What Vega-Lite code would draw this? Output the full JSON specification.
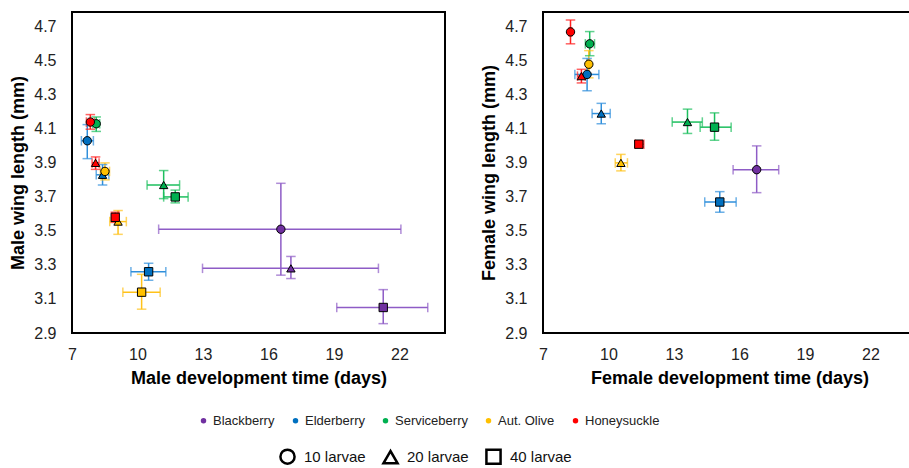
{
  "$schema": "https://vega.github.io/schema/vega-lite/v6.json",
  "padding": {"left": 8, "top": 11, "right": 0, "bottom": 0},
  "background": "white",
  "datasets": {
    "pts": [
      {"sex": "Male", "host": "Blackberry", "larvae": "10 larvae", "x": 16.57, "xlo": 10.97, "xhi": 22.07, "y": 3.51, "ylo": 3.24, "yhi": 3.78},
      {"sex": "Male", "host": "Blackberry", "larvae": "20 larvae", "x": 17.03, "xlo": 12.98, "xhi": 21.04, "y": 3.28, "ylo": 3.22, "yhi": 3.35},
      {"sex": "Male", "host": "Blackberry", "larvae": "40 larvae", "x": 21.26, "xlo": 19.13, "xhi": 23.3, "y": 3.05, "ylo": 2.955, "yhi": 3.155},
      {"sex": "Male", "host": "Elderberry", "larvae": "10 larvae", "x": 7.7, "xlo": 7.43, "xhi": 7.98, "y": 4.03, "ylo": 3.925, "yhi": 4.125},
      {"sex": "Male", "host": "Elderberry", "larvae": "20 larvae", "x": 8.4, "xlo": 8.11, "xhi": 8.69, "y": 3.83, "ylo": 3.77, "yhi": 3.89},
      {"sex": "Male", "host": "Elderberry", "larvae": "40 larvae", "x": 10.51, "xlo": 9.7, "xhi": 11.3, "y": 3.26, "ylo": 3.21, "yhi": 3.31},
      {"sex": "Male", "host": "Serviceberry", "larvae": "10 larvae", "x": 8.11, "xlo": 7.95, "xhi": 8.27, "y": 4.13, "ylo": 4.085, "yhi": 4.17},
      {"sex": "Male", "host": "Serviceberry", "larvae": "20 larvae", "x": 11.2, "xlo": 10.44, "xhi": 11.93, "y": 3.77, "ylo": 3.69, "yhi": 3.855},
      {"sex": "Male", "host": "Serviceberry", "larvae": "40 larvae", "x": 11.73, "xlo": 11.2, "xhi": 12.32, "y": 3.7, "ylo": 3.665, "yhi": 3.74},
      {"sex": "Male", "host": "Aut. Olive", "larvae": "10 larvae", "x": 8.51, "xlo": 8.3, "xhi": 8.72, "y": 3.85, "ylo": 3.8, "yhi": 3.9},
      {"sex": "Male", "host": "Aut. Olive", "larvae": "20 larvae", "x": 9.11, "xlo": 8.73, "xhi": 9.49, "y": 3.555, "ylo": 3.48, "yhi": 3.62},
      {"sex": "Male", "host": "Aut. Olive", "larvae": "40 larvae", "x": 10.19, "xlo": 9.33, "xhi": 11.04, "y": 3.14, "ylo": 3.04, "yhi": 3.245},
      {"sex": "Male", "host": "Honeysuckle", "larvae": "10 larvae", "x": 7.84, "xlo": 7.66, "xhi": 8.02, "y": 4.14, "ylo": 4.098, "yhi": 4.184},
      {"sex": "Male", "host": "Honeysuckle", "larvae": "20 larvae", "x": 8.08, "xlo": 7.92, "xhi": 8.24, "y": 3.9, "ylo": 3.862, "yhi": 3.935},
      {"sex": "Male", "host": "Honeysuckle", "larvae": "40 larvae", "x": 8.98, "xlo": 8.85, "xhi": 9.11, "y": 3.58, "ylo": 3.55, "yhi": 3.61},
      {"sex": "Female", "host": "Blackberry", "larvae": "10 larvae", "x": 16.79, "xlo": 15.71, "xhi": 17.8, "y": 3.86, "ylo": 3.725, "yhi": 4.0},
      {"sex": "Female", "host": "Elderberry", "larvae": "10 larvae", "x": 9.02, "xlo": 8.46, "xhi": 9.56, "y": 4.42, "ylo": 4.324, "yhi": 4.514},
      {"sex": "Female", "host": "Elderberry", "larvae": "20 larvae", "x": 9.67, "xlo": 9.25, "xhi": 10.08, "y": 4.19, "ylo": 4.13, "yhi": 4.25},
      {"sex": "Female", "host": "Elderberry", "larvae": "40 larvae", "x": 15.1, "xlo": 14.41, "xhi": 15.85, "y": 3.67, "ylo": 3.61, "yhi": 3.731},
      {"sex": "Female", "host": "Serviceberry", "larvae": "10 larvae", "x": 9.14, "xlo": 8.94, "xhi": 9.36, "y": 4.6, "ylo": 4.53, "yhi": 4.672},
      {"sex": "Female", "host": "Serviceberry", "larvae": "20 larvae", "x": 13.62, "xlo": 12.92, "xhi": 14.3, "y": 4.14, "ylo": 4.073, "yhi": 4.216},
      {"sex": "Female", "host": "Serviceberry", "larvae": "40 larvae", "x": 14.86, "xlo": 14.2, "xhi": 15.62, "y": 4.11, "ylo": 4.033, "yhi": 4.194},
      {"sex": "Female", "host": "Aut. Olive", "larvae": "10 larvae", "x": 9.1, "xlo": 9.02, "xhi": 9.18, "y": 4.48, "ylo": 4.4, "yhi": 4.56},
      {"sex": "Female", "host": "Aut. Olive", "larvae": "20 larvae", "x": 10.57, "xlo": 10.31, "xhi": 10.87, "y": 3.9, "ylo": 3.853, "yhi": 3.95},
      {"sex": "Female", "host": "Honeysuckle", "larvae": "10 larvae", "x": 8.26, "xlo": 8.2, "xhi": 8.32, "y": 4.67, "ylo": 4.6, "yhi": 4.74},
      {"sex": "Female", "host": "Honeysuckle", "larvae": "20 larvae", "x": 8.76, "xlo": 8.58, "xhi": 8.94, "y": 4.41, "ylo": 4.37, "yhi": 4.45},
      {"sex": "Female", "host": "Honeysuckle", "larvae": "40 larvae", "x": 11.39, "xlo": 11.22, "xhi": 11.62, "y": 4.01, "ylo": 3.995, "yhi": 4.025}
    ]
  },
  "spacing": 33,
  "hconcat": [
    {
      "width": 373, "height": 321,
      "data": {"name": "pts"},
      "transform": [{"filter": "datum.sex === 'Male'"}],
      "encoding": {
        "x": {"type": "quantitative", "scale": {"domain": [7, 24.09], "nice": false, "zero": false}, "axis": {"title": "Male development time (days)", "values": [7, 10, 13, 16, 19, 22]}},
        "y": {"type": "quantitative", "scale": {"domain": [2.9, 4.787], "nice": false, "zero": false}, "axis": {"title": "Male wing length (mm)", "values": [2.9, 3.1, 3.3, 3.5, 3.7, 3.9, 4.1, 4.3, 4.5, 4.7], "format": ".1f"}}
      },
      "layer": [
        {"mark": {"type": "rule", "strokeWidth": 1.5}, "encoding": {"x": {"field": "xlo"}, "x2": {"field": "xhi"}, "y": {"field": "y"}, "stroke": {"field": "host", "type": "nominal", "scale": {"domain": ["Honeysuckle", "Aut. Olive", "Serviceberry", "Elderberry", "Blackberry"], "range": ["#FF2020", "#FFC21A", "#1DBF5E", "#2F8FDB", "#8E5CC6"]}, "legend": null}}},
        {"mark": {"type": "rule", "strokeWidth": 1.5}, "encoding": {"x": {"field": "x"}, "y": {"field": "ylo"}, "y2": {"field": "yhi"}, "stroke": {"field": "host", "type": "nominal", "legend": null}}},
        {"mark": {"type": "tick", "orient": "vertical", "size": 8, "thickness": 0.01, "strokeWidth": 1.5, "filled": false}, "encoding": {"x": {"field": "xlo"}, "y": {"field": "y"}, "stroke": {"field": "host", "type": "nominal", "legend": null}}},
        {"mark": {"type": "tick", "orient": "vertical", "size": 8, "thickness": 0.01, "strokeWidth": 1.5, "filled": false}, "encoding": {"x": {"field": "xhi"}, "y": {"field": "y"}, "stroke": {"field": "host", "type": "nominal", "legend": null}}},
        {"mark": {"type": "tick", "orient": "horizontal", "size": 8, "thickness": 0.01, "strokeWidth": 1.5, "filled": false}, "encoding": {"x": {"field": "x"}, "y": {"field": "ylo"}, "stroke": {"field": "host", "type": "nominal", "legend": null}}},
        {"mark": {"type": "tick", "orient": "horizontal", "size": 8, "thickness": 0.01, "strokeWidth": 1.5, "filled": false}, "encoding": {"x": {"field": "x"}, "y": {"field": "yhi"}, "stroke": {"field": "host", "type": "nominal", "legend": null}}},
        {"mark": {"type": "point", "filled": true, "stroke": "black", "strokeWidth": 1, "opacity": 1, "size": 70},
         "encoding": {"x": {"field": "x"}, "y": {"field": "y"},
           "color": {"field": "host", "type": "nominal", "scale": {"domain": ["Blackberry", "Elderberry", "Serviceberry", "Aut. Olive", "Honeysuckle"], "range": ["#7030A0", "#0070C0", "#00B050", "#FFC000", "#FF0000"]},
             "legend": {"orient": "none", "legendX": 125, "legendY": 402, "direction": "horizontal", "symbolType": "circle", "symbolSize": 30, "symbolStrokeWidth": 0, "labelFont": "Liberation Sans", "labelFontSize": 13, "labelColor": "#222222", "labelOffset": 3, "columnPadding": 14}},
           "shape": {"field": "larvae", "type": "nominal", "scale": {"domain": ["10 larvae", "20 larvae", "40 larvae"], "range": ["circle", "triangle-up", "square"]},
             "legend": {"orient": "none", "legendX": 207, "legendY": 436, "direction": "horizontal", "symbolSize": 200, "symbolFillColor": "white", "symbolStrokeColor": "black", "symbolStrokeWidth": 2.5, "labelFont": "Liberation Sans", "labelFontSize": 15, "labelColor": "#111111", "labelOffset": 8, "columnPadding": 12}}}}
      ]
    },
    {
      "width": 373, "height": 321,
      "data": {"name": "pts"},
      "transform": [{"filter": "datum.sex === 'Female'"}],
      "encoding": {
        "x": {"type": "quantitative", "scale": {"domain": [7, 24.09], "nice": false, "zero": false}, "axis": {"title": "Female development time (days)", "values": [7, 10, 13, 16, 19, 22]}},
        "y": {"type": "quantitative", "scale": {"domain": [2.9, 4.787], "nice": false, "zero": false}, "axis": {"title": "Female wing length (mm)", "values": [2.9, 3.1, 3.3, 3.5, 3.7, 3.9, 4.1, 4.3, 4.5, 4.7], "format": ".1f"}}
      },
      "layer": [
        {"mark": {"type": "rule", "strokeWidth": 1.5}, "encoding": {"x": {"field": "xlo"}, "x2": {"field": "xhi"}, "y": {"field": "y"}, "stroke": {"field": "host", "type": "nominal", "legend": null}}},
        {"mark": {"type": "rule", "strokeWidth": 1.5}, "encoding": {"x": {"field": "x"}, "y": {"field": "ylo"}, "y2": {"field": "yhi"}, "stroke": {"field": "host", "type": "nominal", "legend": null}}},
        {"mark": {"type": "tick", "orient": "vertical", "size": 8, "thickness": 0.01, "strokeWidth": 1.5, "filled": false}, "encoding": {"x": {"field": "xlo"}, "y": {"field": "y"}, "stroke": {"field": "host", "type": "nominal", "legend": null}}},
        {"mark": {"type": "tick", "orient": "vertical", "size": 8, "thickness": 0.01, "strokeWidth": 1.5, "filled": false}, "encoding": {"x": {"field": "xhi"}, "y": {"field": "y"}, "stroke": {"field": "host", "type": "nominal", "legend": null}}},
        {"mark": {"type": "tick", "orient": "horizontal", "size": 8, "thickness": 0.01, "strokeWidth": 1.5, "filled": false}, "encoding": {"x": {"field": "x"}, "y": {"field": "ylo"}, "stroke": {"field": "host", "type": "nominal", "legend": null}}},
        {"mark": {"type": "tick", "orient": "horizontal", "size": 8, "thickness": 0.01, "strokeWidth": 1.5, "filled": false}, "encoding": {"x": {"field": "x"}, "y": {"field": "yhi"}, "stroke": {"field": "host", "type": "nominal", "legend": null}}},
        {"mark": {"type": "point", "filled": true, "stroke": "black", "strokeWidth": 1, "opacity": 1, "size": 70},
         "encoding": {"x": {"field": "x"}, "y": {"field": "y"},
           "color": {"field": "host", "type": "nominal",
             "legend": {"orient": "none", "legendX": 125, "legendY": 402, "direction": "horizontal", "symbolType": "circle", "symbolSize": 30, "symbolStrokeWidth": 0, "labelFont": "Liberation Sans", "labelFontSize": 13, "labelColor": "#222222", "labelOffset": 3, "columnPadding": 14}},
           "shape": {"field": "larvae", "type": "nominal"}}}
      ]
    }
  ],
  "resolve": {"scale": {"color": "shared", "stroke": "shared", "shape": "shared"}, "legend": {"color": "shared", "shape": "shared"}},
  "config": {
    "view": {"stroke": "black", "strokeWidth": 2},
    "font": "Liberation Sans",
    "axis": {
      "domain": false, "ticks": false, "grid": false,
      "labelFont": "Liberation Sans", "labelFontSize": 16, "labelColor": "#222222",
      "titleFont": "Liberation Sans", "titleFontSize": 18, "titleFontWeight": "bold", "titleColor": "black"
    },
    "axisY": {"titlePadding": 6, "labelPadding": 16, "labelFlush": false},
    "axisX": {"titlePadding": 7, "labelPadding": 13, "labelFlush": false},
    "legend": {"title": null}
  }
}
